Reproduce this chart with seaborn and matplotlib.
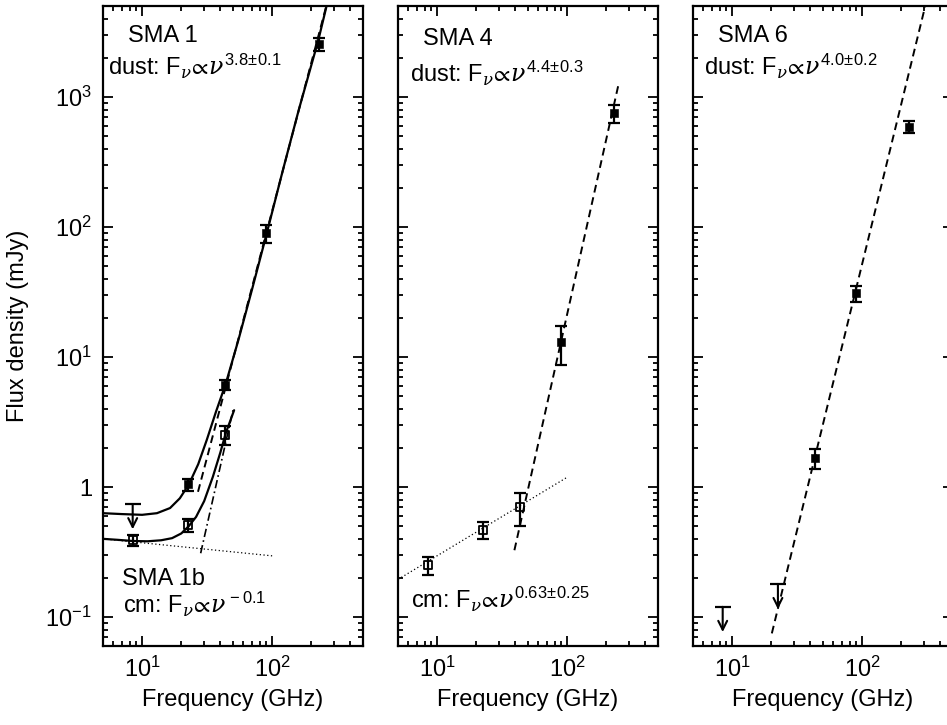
import matplotlib
matplotlib.use('Agg')
import matplotlib.pyplot as plt
import matplotlib.ticker as mticker
import numpy as np
import pandas as pd
import seaborn as sns

# ---------------- data ----------------
# SMA 1 (filled squares) and its 8.46 GHz upper limit
sma1_freq = [22.5, 43.3, 90.0, 230.0]
sma1_flux = [1.05, 6.1, 89.5, 2550.0]
sma1_err = [0.11, 0.55, 14.0, 280.0]
sma1_lim_freq = [8.46]
sma1_lim_flux = [0.74]

# SMA 1b (open squares)
sma1b_freq = [8.46, 22.5, 43.3]
sma1b_flux = [0.39, 0.51, 2.51]
sma1b_err = [0.035, 0.055, 0.42]

# SMA 4
sma4_cm_freq = [8.46, 22.5, 43.3]
sma4_cm_flux = [0.25, 0.47, 0.70]
sma4_cm_err = [0.04, 0.07, 0.20]
sma4_mm_freq = [90.0, 230.0]
sma4_mm_flux = [13.0, 750.0]
sma4_mm_err = [4.3, 120.0]

# SMA 6
sma6_freq = [43.3, 90.0, 230.0]
sma6_flux = [1.68, 30.9, 591.0]
sma6_err = [0.3, 4.2, 62.0]
sma6_lim_freq = [8.46, 22.5]
sma6_lim_flux = [0.12, 0.18]

# model curves
sma1_total_freq = [5.0, 7.0, 10.0, 13.0, 16.4, 19.5, 22.9, 27.0, 31.4, 37.0, 43.9, 55.0, 70.0, 90.0, 120.0, 160.0, 226.0, 261.0]
sma1_total_flux = [0.63, 0.62, 0.612, 0.63, 0.69, 0.82, 1.05, 1.5, 2.3, 3.8, 6.2, 13.5, 33.0, 86.0, 265.0, 790.0, 2700.0, 4900.0]
sma1b_total_freq = [5.0, 6.5, 8.5, 11.0, 14.0, 17.0, 20.0, 22.8, 26.0, 30.0, 35.0, 40.0, 44.0, 51.0]
sma1b_total_flux = [0.40, 0.393, 0.385, 0.383, 0.39, 0.405, 0.44, 0.50, 0.59, 0.78, 1.2, 1.85, 2.6, 3.9]
sma1_dust_freq = [26.9, 261.0]
sma1_dust_flux = [0.92, 5000.0]
sma1b_dust_freq = [28.2, 50.0]
sma1b_dust_flux = [0.31, 3.9]
sma1b_cm_freq = [5.0, 100.0]
sma1b_cm_flux = [0.40, 0.296]
sma4_dust_freq = [39.3, 248.0]
sma4_dust_flux = [0.327, 1237.0]
sma4_cm_line_freq = [5.0, 100.0]
sma4_cm_line_flux = [0.195, 1.19]
sma6_dust_freq = [20.2, 305.0]
sma6_dust_flux = [0.075, 4950.0]

# ---------------- style ----------------
sns.set_theme(style='ticks')
plt.rcParams['font.family'] = ['Liberation Sans', 'DejaVu Sans']
plt.rcParams['mathtext.fontset'] = 'custom'
plt.rcParams['mathtext.rm'] = 'Liberation Sans'
plt.rcParams['mathtext.it'] = 'DejaVu Serif:italic'
plt.rcParams['mathtext.sf'] = 'Liberation Sans'
plt.rcParams['mathtext.fallback'] = 'stixsans'
plt.rcParams['axes.edgecolor'] = 'black'
plt.rcParams['axes.linewidth'] = 1.5
plt.rcParams['xtick.color'] = 'black'
plt.rcParams['ytick.color'] = 'black'
plt.rcParams['text.color'] = 'black'
plt.rcParams['axes.labelcolor'] = 'black'

FS = 17
W, H = 947, 725
fig = plt.figure(figsize=(W / 100, H / 100), dpi=100)
fig.patch.set_facecolor('white')


def make_ax(left_px, show_ylabels):
    ax = fig.add_axes([left_px / W, (H - 646) / H, 260 / W, 640 / H])
    ax.set_facecolor('white')
    ax.set_xscale('log')
    ax.set_yscale('log')
    ax.set_xlim(5, 500)
    ax.set_ylim(0.06, 5000)
    ax.xaxis.set_major_locator(mticker.LogLocator(base=10, numticks=10))
    ax.xaxis.set_minor_locator(mticker.LogLocator(base=10, subs=np.arange(2, 10), numticks=30))
    ax.yaxis.set_major_locator(mticker.LogLocator(base=10, numticks=12))
    ax.yaxis.set_minor_locator(mticker.LogLocator(base=10, subs=np.arange(2, 10), numticks=40))

    def fmt(v, pos):
        e = int(round(np.log10(v)))
        return '1' if e == 0 else r'$10^{%d}$' % e
    ax.xaxis.set_major_formatter(mticker.FuncFormatter(fmt))
    ax.yaxis.set_major_formatter(mticker.FuncFormatter(fmt))
    ax.xaxis.set_minor_formatter(mticker.NullFormatter())
    ax.yaxis.set_minor_formatter(mticker.NullFormatter())
    ax.tick_params(which='both', direction='in', top=True, right=True, width=1.3,
                   labelsize=FS, labelleft=show_ylabels)
    ax.tick_params(which='major', length=7.5, pad=8)
    ax.tick_params(which='minor', length=3.8)
    ax.set_xlabel('Frequency (GHz)', fontsize=FS, labelpad=5)
    for s in ax.spines.values():
        s.set_linewidth(1.6)
    return ax


def line(ax, fx, fy, ls, lw=1.5):
    sns.lineplot(x=fx, y=fy, ax=ax, color='black', linestyle=ls, linewidth=lw,
                 sort=False, estimator=None)


def points(ax, fx, fy, err, filled):
    ax.errorbar(fx, fy, yerr=err, fmt='none', ecolor='black', elinewidth=1.6,
                capsize=4.5, capthick=1.6, zorder=3)
    if filled:
        sns.scatterplot(x=fx, y=fy, ax=ax, marker='s', s=30, color='black',
                        edgecolor='black', zorder=4)
    else:
        sns.scatterplot(x=fx, y=fy, ax=ax, marker='s', s=32, facecolor='none',
                        edgecolor='black', linewidth=1.3, zorder=4)


def limits(ax, fx, fy):
    for xv, yv in zip(fx, fy):
        ax.plot([xv], [yv], marker='_', ms=11, mew=1.6, color='black')
        ax.annotate('', xy=(xv, yv * 0.64), xytext=(xv, yv),
                    arrowprops=dict(arrowstyle='->', lw=1.5, color='black',
                                    mutation_scale=16, shrinkA=0, shrinkB=0))


def label(ax, x, y, s):
    ax.text(x, y, s, transform=ax.transAxes, fontsize=FS, ha='left', va='baseline')


# ---------- panel SMA 1 ----------
ax1 = make_ax(103, True)
line(ax1, sma1_total_freq, sma1_total_flux, '-', 1.6)
line(ax1, sma1b_total_freq, sma1b_total_flux, '-', 1.6)
line(ax1, sma1_dust_freq, sma1_dust_flux, (0, (4, 2.5)), 1.4)
line(ax1, sma1b_dust_freq, sma1b_dust_flux, (0, (5, 2, 1, 2)), 1.2)
line(ax1, sma1b_cm_freq, sma1b_cm_flux, (0, (1, 2)), 0.9)
points(ax1, sma1_freq, sma1_flux, sma1_err, True)
points(ax1, sma1b_freq, sma1b_flux, sma1b_err, False)
limits(ax1, sma1_lim_freq, sma1_lim_flux)
label(ax1, 0.096, 0.944, 'SMA 1')
label(ax1, 0.019, 0.892, r'dust: F$_\nu\!\propto\!\nu^{\rm 3.8\!\pm\!0.1}$')
label(ax1, 0.073, 0.095, 'SMA 1b')
label(ax1, 0.077, 0.052, r'cm: F$_\nu\!\propto\!\nu^{\rm -0.1}$')

# ---------- panel SMA 4 ----------
ax2 = make_ax(398, False)
line(ax2, sma4_dust_freq, sma4_dust_flux, (0, (4, 2.5)), 1.4)
line(ax2, sma4_cm_line_freq, sma4_cm_line_flux, (0, (1, 2)), 0.9)
points(ax2, sma4_mm_freq, sma4_mm_flux, sma4_mm_err, True)
points(ax2, sma4_cm_freq, sma4_cm_flux, sma4_cm_err, False)
label(ax2, 0.096, 0.939, 'SMA 4')
label(ax2, 0.046, 0.881, r'dust: F$_\nu\!\propto\!\nu^{\rm 4.4\!\pm\!0.3}$')
label(ax2, 0.05, 0.059, r'cm: F$_\nu\!\propto\!\nu^{\rm 0.63\!\pm\!0.25}$')

# ---------- panel SMA 6 ----------
ax3 = make_ax(693, False)
line(ax3, sma6_dust_freq, sma6_dust_flux, (0, (4, 2.5)), 1.4)
points(ax3, sma6_freq, sma6_flux, sma6_err, True)
limits(ax3, sma6_lim_freq, sma6_lim_flux)
label(ax3, 0.096, 0.944, 'SMA 6')
label(ax3, 0.042, 0.892, r'dust: F$_\nu\!\propto\!\nu^{\rm 4.0\!\pm\!0.2}$')

for a in (ax1, ax2, ax3):
    a.set_ylabel('')

fig.text(18 / W, 1 - 326 / H, 'Flux density (mJy)', rotation=90, ha='center',
         va='center', fontsize=FS)

fig.savefig('out.png', dpi=100, facecolor='white')
